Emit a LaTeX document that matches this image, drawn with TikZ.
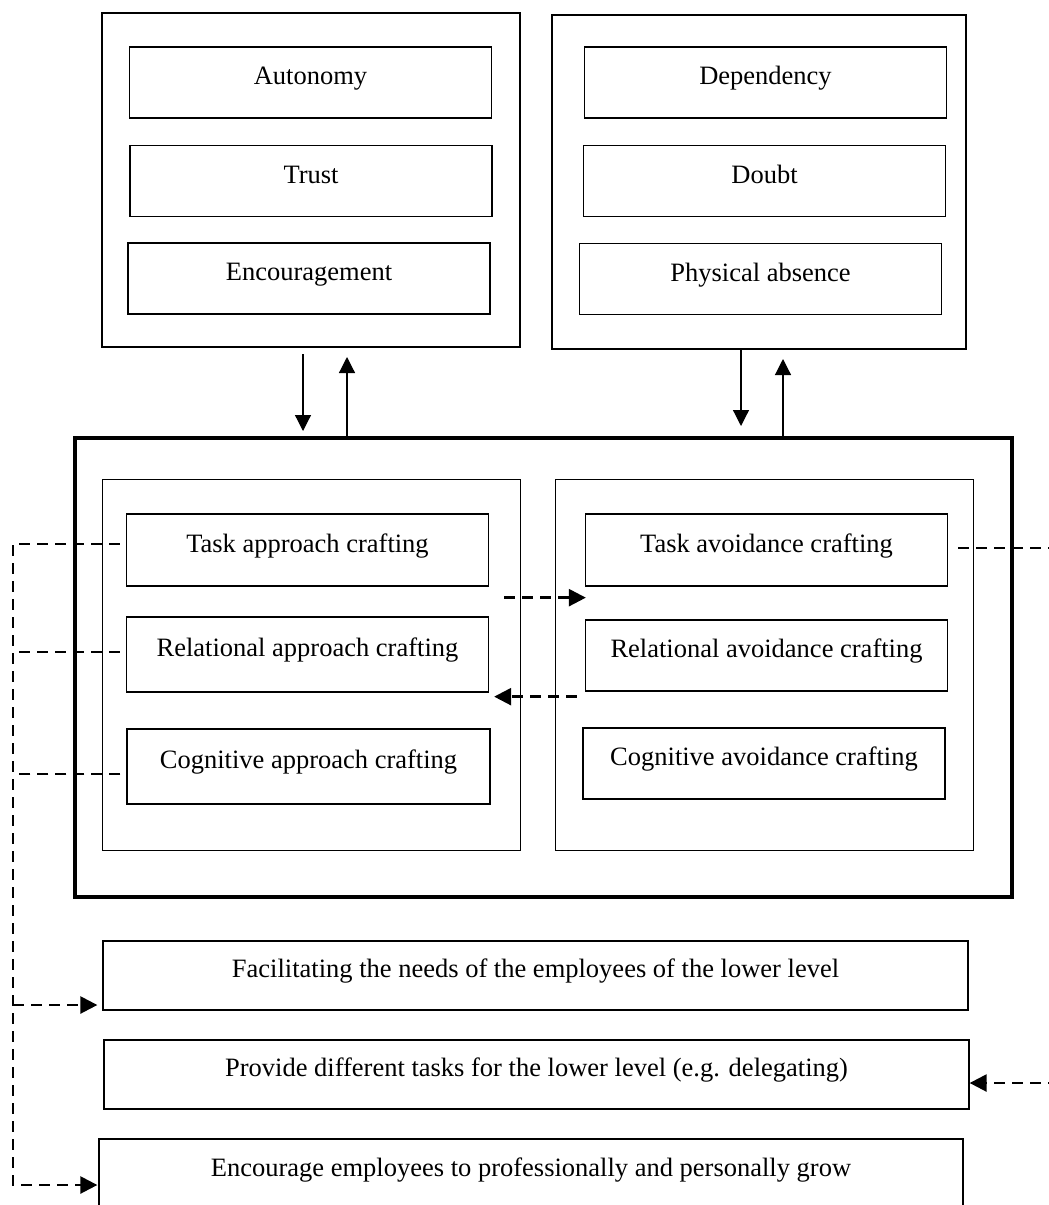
\documentclass[tikz,border=0pt]{standalone}
\usepackage{fontspec}
\setmainfont{Liberation Serif}
\usetikzlibrary{positioning,arrows.meta,calc}

\begin{document}
\begin{tikzpicture}[x=1pt,y=-1pt,font=\fontsize{26.5}{30}\selectfont,
   box/.style={draw,line width=1.3pt,inner sep=0pt,minimum height=71pt,
     minimum width=362pt,text height=22pt,text depth=18pt},
   wide/.style={box,minimum width=865pt,minimum height=69pt},
   group/.style={draw,line width=1pt,inner sep=0pt},
   flow/.style={-{Triangle[length=16pt,width=16pt]},line width=1.2pt},
   dline/.style={line width=2.5pt,dash pattern=on 11pt off 7pt},
   dflow/.style={dline,-{Triangle[length=17pt,width=17pt]}}]
 \useasboundingbox (0,0) rectangle (1049,1205);
 % upper groups
 \node[group,line width=2pt,minimum width=418pt,minimum height=334pt] (g1) at (311,180) {};
 \node[group,line width=2pt,minimum width=414pt,minimum height=334pt] (g2) at (759,182) {};
 \node[box] (autonomy) at (310.5,82.5) {Autonomy};
 \node[box] (trust) at (311,181) {Trust};
 \node[box] (encour) at (309,278.5) {Encouragement};
 \node[box] (dependency) at (765.5,82.5) {Dependency};
 \node[box] (doubt) at (764.5,181) {Doubt};
 \node[box] (absence) at (760.5,279) {Physical absence};
 % crafting block
 \node[group,line width=4pt,minimum width=937pt,minimum height=459pt] (big) at (543.5,667.5) {};
 \node[group,minimum width=418pt,minimum height=371pt] (appr) at (311,664.5) {};
 \node[group,minimum width=418pt,minimum height=371pt] (avoid) at (764,664.5) {};
 \node[box,minimum height=72pt] (tap) at (307.5,550) {Task approach crafting};
 \node[box,minimum height=75pt] (rap) at (307.5,654.5) {Relational approach crafting};
 \node[box,minimum height=75pt,minimum width=363pt] (cap) at (308.5,766.5) {Cognitive approach crafting};
 \node[box,minimum height=72pt] (tav) at (766.5,550) {Task avoidance crafting};
 \node[box] (rav) at (766.5,655.5) {Relational avoidance crafting};
 \node[box] (cav) at (764,763.5) {Cognitive avoidance crafting};
 % outcomes
 \node[wide] (facil) at (535.5,975.5) {Facilitating the needs of the employees of the lower level};
 \node[wide] (provide) at (536.5,1074.5) {Provide different tasks for the lower level (e.g. delegating)};
 \node[wide,minimum width=864pt,minimum height=70pt] (grow) at (531,1174) {Encourage employees to professionally and personally grow};
 % up and down links
 \path (g1.south) ++(-8,0) coordinate (d1);
 \path (g1.south) ++(36,0) coordinate (u1);
 \path (g2.south) ++(-18,0) coordinate (d2);
 \path (g2.south) ++(24,0) coordinate (u2);
 \draw[flow,shorten <=6pt,shorten >=5pt] (d1) -- (d1 |- big.north);
 \draw[flow,shorten >=9pt] (u1 |- big.north) -- (u1);
 \draw[flow,shorten >=10pt] (d2) -- (d2 |- big.north);
 \draw[flow,shorten >=9pt] (u2 |- big.north) -- (u2);
 % between approach and avoidance
 \draw[dflow] ($(tap.south east)+(15,11)$) -- ($(tav.south west)+(1,11)$);
 \draw[dflow] ($(rav.south west)+(-8,5)$) -- ($(rap.south east)+(5,4)$);
 % left bus
 \coordinate (lbus) at (13,544);
 \coordinate (f1) at ($(facil.west)+(-5,29.5)$);
 \coordinate (e1) at ($(grow.west)+(-1,11)$);
 \coordinate (r1) at ($(rap.west)+(-6,-2.5)$);
 \coordinate (c1) at ($(cap.west)+(-6,7.5)$);
 \draw[dflow] ($(tap.west)+(-6,-6)$) -- (lbus) |- (e1);
 \draw[dline] (r1) -- (r1 -| lbus);
 \draw[dline] (c1) -- (c1 -| lbus);
 \draw[dflow] (f1 -| lbus) -- (f1);
 % right bus
 \coordinate (rbus) at (1056,548);
 \coordinate (p1) at ($(provide.east)+(0,8.5)$);
 \draw[dflow] ($(tav.east)+(10,-2)$) -- (rbus) |- (p1);
\end{tikzpicture}
\end{document}
